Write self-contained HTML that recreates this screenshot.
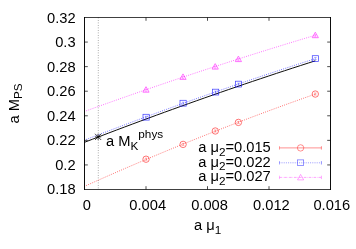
<!DOCTYPE html>
<html>
<head>
<meta charset="utf-8">
<title>plot</title>
<style>
html,body{margin:0;padding:0;background:#fff;}
body{width:356px;height:249px;overflow:hidden;font-family:"Liberation Sans",sans-serif;}
svg{display:block;will-change:transform;}
text{font-family:"Liberation Sans",sans-serif;fill:#000;}
.txt{filter:grayscale(1);}
</style>
</head>
<body>
<svg width="356" height="249" viewBox="0 0 356 249">
<rect x="0" y="0" width="356" height="249" fill="#ffffff"/>
<line x1="98.3" y1="17.5" x2="98.3" y2="189.5" stroke="#000" stroke-width="0.8" stroke-dasharray="0.8 1.7" opacity="0.5"/>
<polyline fill="none" stroke="#ff0000" stroke-width="0.85" stroke-linecap="round" stroke-dasharray="0.1 2.15" opacity="0.72" points="84.50,186.33 88.50,184.53 92.50,182.75 96.50,180.96 100.50,179.19 104.50,177.42 108.50,175.66 112.50,173.91 116.50,172.16 120.50,170.42 124.50,168.69 128.50,166.96 132.50,165.24 136.50,163.53 140.50,161.83 144.50,160.13 148.50,158.44 152.50,156.75 156.50,155.08 160.50,153.40 164.50,151.74 168.50,150.08 172.50,148.44 176.50,146.79 180.50,145.16 184.50,143.53 188.50,141.91 192.50,140.29 196.50,138.68 200.50,137.08 204.50,135.49 208.50,133.90 212.50,132.32 216.50,130.75 220.50,129.18 224.50,127.62 228.50,126.07 232.50,124.52 236.50,122.98 240.50,121.45 244.50,119.93 248.50,118.41 252.50,116.90 256.50,115.39 260.50,113.90 264.50,112.40 268.50,110.92 272.50,109.45 276.50,107.98 280.50,106.51 284.50,105.06 288.50,103.61 292.50,102.17 296.50,100.73 300.50,99.30 304.50,97.88 308.50,96.47 312.50,95.06 315.30,94.08"/>
<polyline fill="none" stroke="#0000ff" stroke-width="0.85" stroke-linecap="round" stroke-dasharray="0.1 2.15" opacity="0.72" points="84.50,140.15 88.50,138.60 92.50,137.05 96.50,135.51 100.50,133.98 104.50,132.45 108.50,130.92 112.50,129.40 116.50,127.88 120.50,126.37 124.50,124.87 128.50,123.36 132.50,121.87 136.50,120.37 140.50,118.89 144.50,117.41 148.50,115.93 152.50,114.46 156.50,112.99 160.50,111.52 164.50,110.07 168.50,108.61 172.50,107.17 176.50,105.72 180.50,104.28 184.50,102.85 188.50,101.42 192.50,100.00 196.50,98.58 200.50,97.16 204.50,95.75 208.50,94.35 212.50,92.95 216.50,91.56 220.50,90.17 224.50,88.78 228.50,87.40 232.50,86.03 236.50,84.65 240.50,83.29 244.50,81.93 248.50,80.57 252.50,79.22 256.50,77.88 260.50,76.53 264.50,75.20 268.50,73.87 272.50,72.54 276.50,71.22 280.50,69.90 284.50,68.59 288.50,67.28 292.50,65.98 296.50,64.68 300.50,63.39 304.50,62.10 308.50,60.82 312.50,59.54 315.40,58.62"/>
<polyline fill="none" stroke="#ff00ff" stroke-width="0.85" stroke-linecap="round" stroke-dasharray="0.1 2.15" opacity="0.72" points="84.50,111.46 88.50,110.01 92.50,108.57 96.50,107.13 100.50,105.70 104.50,104.27 108.50,102.84 112.50,101.42 116.50,100.01 120.50,98.60 124.50,97.19 128.50,95.79 132.50,94.39 136.50,92.99 140.50,91.61 144.50,90.22 148.50,88.84 152.50,87.46 156.50,86.09 160.50,84.73 164.50,83.36 168.50,82.00 172.50,80.65 176.50,79.30 180.50,77.96 184.50,76.62 188.50,75.28 192.50,73.95 196.50,72.62 200.50,71.30 204.50,69.98 208.50,68.67 212.50,67.36 216.50,66.06 220.50,64.75 224.50,63.46 228.50,62.17 232.50,60.88 236.50,59.60 240.50,58.32 244.50,57.05 248.50,55.78 252.50,54.51 256.50,53.25 260.50,52.00 264.50,50.75 268.50,49.50 272.50,48.26 276.50,47.02 280.50,45.79 284.50,44.56 288.50,43.34 292.50,42.12 296.50,40.90 300.50,39.69 304.50,38.48 308.50,37.28 312.50,36.08 315.30,35.25"/>
<polyline fill="none" stroke="#000" stroke-width="0.95" points="84.50,142.30 92.50,139.21 100.50,136.14 108.50,133.09 116.50,130.06 124.50,127.04 132.50,124.05 140.50,121.07 148.50,118.11 156.50,115.18 164.50,112.26 172.50,109.36 180.50,106.48 188.50,103.62 196.50,100.77 204.50,97.95 212.50,95.15 220.50,92.36 228.50,89.59 236.50,86.85 244.50,84.12 252.50,81.41 260.50,78.72 268.50,76.05 276.50,73.39 284.50,70.76 292.50,68.15 300.50,65.55 308.50,62.97 315.30,60.80"/>
<g fill="none" stroke="#ff0000" stroke-width="0.75" opacity="0.72">
<circle cx="146.05" cy="159.2" r="3.2"/>
<circle cx="183.1" cy="144.4" r="3.2"/>
<circle cx="215.3" cy="131.0" r="3.2"/>
<circle cx="238.4" cy="122.4" r="3.2"/>
<circle cx="315.3" cy="94.05" r="3.2"/>
</g>
<path d="M144.75,158.20 h2.6 M144.75,160.20 h2.6 M146.05,158.20 v2.0" stroke="#ff0000" stroke-width="0.6" fill="none" opacity="0.5"/>
<path d="M181.80,143.40 h2.6 M181.80,145.40 h2.6 M183.10,143.40 v2.0" stroke="#ff0000" stroke-width="0.6" fill="none" opacity="0.5"/>
<path d="M214.00,130.00 h2.6 M214.00,132.00 h2.6 M215.30,130.00 v2.0" stroke="#ff0000" stroke-width="0.6" fill="none" opacity="0.5"/>
<path d="M237.10,121.40 h2.6 M237.10,123.40 h2.6 M238.40,121.40 v2.0" stroke="#ff0000" stroke-width="0.6" fill="none" opacity="0.5"/>
<path d="M314.00,93.05 h2.6 M314.00,95.05 h2.6 M315.30,93.05 v2.0" stroke="#ff0000" stroke-width="0.6" fill="none" opacity="0.5"/>
<g fill="none" stroke="#0000ff" stroke-width="0.75" opacity="0.72">
<rect x="143.00" y="114.30" width="6.2" height="5.8"/>
<rect x="180.00" y="100.30" width="6.2" height="5.8"/>
<rect x="212.50" y="89.20" width="6.2" height="5.8"/>
<rect x="235.40" y="81.20" width="6.2" height="5.8"/>
<rect x="312.30" y="55.70" width="6.2" height="5.8"/>
</g>
<path d="M144.80,116.20 h2.6 M144.80,118.20 h2.6 M146.10,116.20 v2.0" stroke="#0000ff" stroke-width="0.6" fill="none" opacity="0.5"/>
<path d="M181.80,102.20 h2.6 M181.80,104.20 h2.6 M183.10,102.20 v2.0" stroke="#0000ff" stroke-width="0.6" fill="none" opacity="0.5"/>
<path d="M214.30,91.10 h2.6 M214.30,93.10 h2.6 M215.60,91.10 v2.0" stroke="#0000ff" stroke-width="0.6" fill="none" opacity="0.5"/>
<path d="M237.20,83.10 h2.6 M237.20,85.10 h2.6 M238.50,83.10 v2.0" stroke="#0000ff" stroke-width="0.6" fill="none" opacity="0.5"/>
<path d="M314.10,57.60 h2.6 M314.10,59.60 h2.6 M315.40,57.60 v2.0" stroke="#0000ff" stroke-width="0.6" fill="none" opacity="0.5"/>
<g fill="none" stroke="#ff00ff" stroke-width="0.75" opacity="0.72">
<path d="M146.00,86.70 l3.1,5.5 h-6.2 z"/>
<path d="M183.00,73.90 l3.1,5.5 h-6.2 z"/>
<path d="M215.20,63.60 l3.1,5.5 h-6.2 z"/>
<path d="M238.40,56.10 l3.1,5.5 h-6.2 z"/>
<path d="M315.30,32.20 l3.1,5.5 h-6.2 z"/>
</g>
<path d="M144.70,89.30 h2.6 M144.70,91.30 h2.6 M146.00,89.30 v2.0" stroke="#ff00ff" stroke-width="0.6" fill="none" opacity="0.5"/>
<path d="M181.70,76.50 h2.6 M181.70,78.50 h2.6 M183.00,76.50 v2.0" stroke="#ff00ff" stroke-width="0.6" fill="none" opacity="0.5"/>
<path d="M213.90,66.20 h2.6 M213.90,68.20 h2.6 M215.20,66.20 v2.0" stroke="#ff00ff" stroke-width="0.6" fill="none" opacity="0.5"/>
<path d="M237.10,58.70 h2.6 M237.10,60.70 h2.6 M238.40,58.70 v2.0" stroke="#ff00ff" stroke-width="0.6" fill="none" opacity="0.5"/>
<path d="M314.00,34.80 h2.6 M314.00,36.80 h2.6 M315.30,34.80 v2.0" stroke="#ff00ff" stroke-width="0.6" fill="none" opacity="0.5"/>
<g stroke="#000" stroke-width="0.7">
<line x1="95.0" y1="136.9" x2="101.19999999999999" y2="136.9"/><line x1="98.1" y1="133.8" x2="98.1" y2="140.0"/>
<line x1="95.0" y1="133.8" x2="101.19999999999999" y2="140.0"/><line x1="95.0" y1="140.0" x2="101.19999999999999" y2="133.8"/>
</g>
<g stroke="#ff0000" stroke-width="0.55" fill="none" opacity="0.8">
<line x1="279.3" y1="147.9" x2="321.4" y2="147.9"/><line x1="279.3" y1="146.20000000000002" x2="279.3" y2="149.6"/><line x1="321.4" y1="146.20000000000002" x2="321.4" y2="149.6"/>
<circle cx="300.6" cy="147.9" r="3.2"/></g>
<g stroke="#0000ff" stroke-width="0.6" fill="none" opacity="0.68">
<line x1="279.3" y1="162.8" x2="321.4" y2="162.8" stroke-dasharray="1 1.2"/><line x1="279.3" y1="161.10000000000002" x2="279.3" y2="164.5"/><line x1="321.4" y1="161.10000000000002" x2="321.4" y2="164.5"/>
<rect x="297.5" y="159.9" width="6.2" height="5.8"/></g>
<g stroke="#ff00ff" stroke-width="0.55" fill="none" opacity="0.65">
<line x1="279.3" y1="177.4" x2="321.4" y2="177.4" stroke-dasharray="2.6 0.9 0.5 0.9"/><line x1="279.3" y1="175.70000000000002" x2="279.3" y2="179.1"/><line x1="321.4" y1="175.70000000000002" x2="321.4" y2="179.1"/>
<path d="M300.6,174.40 l3.1,5.5 h-6.2 z"/></g>
<g stroke="#000" stroke-linecap="square"><line x1="84.5" y1="17.5" x2="330.5" y2="17.5" stroke-width="0.75"/><line x1="84.5" y1="189.5" x2="330.5" y2="189.5" stroke-width="0.75"/><line x1="84.5" y1="17.5" x2="84.5" y2="189.5" stroke-width="0.95"/><line x1="330.5" y1="17.5" x2="330.5" y2="189.5" stroke-width="0.95"/></g>
<g stroke="#000" stroke-width="0.7">
<line x1="84.5" y1="42.07" x2="87.8" y2="42.07"/><line x1="330.5" y1="42.07" x2="327.2" y2="42.07"/>
<line x1="84.5" y1="66.64" x2="87.8" y2="66.64"/><line x1="330.5" y1="66.64" x2="327.2" y2="66.64"/>
<line x1="84.5" y1="91.21" x2="87.8" y2="91.21"/><line x1="330.5" y1="91.21" x2="327.2" y2="91.21"/>
<line x1="84.5" y1="115.79" x2="87.8" y2="115.79"/><line x1="330.5" y1="115.79" x2="327.2" y2="115.79"/>
<line x1="84.5" y1="140.36" x2="87.8" y2="140.36"/><line x1="330.5" y1="140.36" x2="327.2" y2="140.36"/>
<line x1="84.5" y1="164.93" x2="87.8" y2="164.93"/><line x1="330.5" y1="164.93" x2="327.2" y2="164.93"/>
<line x1="146.00" y1="189.5" x2="146.00" y2="186.2"/><line x1="146.00" y1="17.5" x2="146.00" y2="20.8"/>
<line x1="207.50" y1="189.5" x2="207.50" y2="186.2"/><line x1="207.50" y1="17.5" x2="207.50" y2="20.8"/>
<line x1="269.00" y1="189.5" x2="269.00" y2="186.2"/><line x1="269.00" y1="17.5" x2="269.00" y2="20.8"/>
</g>
<g class="txt">
<g font-size="14.7" text-anchor="end">
<text x="75.6" y="22.90">0.32</text>
<text x="75.6" y="47.36">0.3</text>
<text x="75.6" y="71.82">0.28</text>
<text x="75.6" y="96.28">0.26</text>
<text x="75.6" y="120.74">0.24</text>
<text x="75.6" y="145.20">0.22</text>
<text x="75.6" y="169.66">0.2</text>
<text x="75.6" y="194.12">0.18</text>
</g>
<g font-size="14.7" text-anchor="middle">
<text x="86.9" y="209.8">0</text>
<text x="147.7" y="209.8">0.004</text>
<text x="209.6" y="209.8">0.008</text>
<text x="271.4" y="209.8">0.012</text>
<text x="331.8" y="209.8">0.016</text>
</g>
<text x="194" y="230.2" font-size="14.7">a μ<tspan font-size="11.76" dy="3.5">1</tspan></text>
<text transform="translate(18.75,123.5) rotate(-90)" font-size="14.7">a M<tspan font-size="11.76" dy="3.5">PS</tspan></text>
<text x="106" y="145.6" font-size="14.7">a M<tspan font-size="11.76" dy="3.9">K</tspan><tspan font-size="11.76" dy="-11.3">phys</tspan></text>
<g font-size="14.7" text-anchor="end">
<text x="270.8" y="152.0">a μ<tspan font-size="11.76" dy="3.5">2</tspan><tspan dy="-3.5">=0.015</tspan></text>
<text x="270.8" y="166.7">a μ<tspan font-size="11.76" dy="3.5">2</tspan><tspan dy="-3.5">=0.022</tspan></text>
<text x="270.8" y="181.3">a μ<tspan font-size="11.76" dy="3.5">2</tspan><tspan dy="-3.5">=0.027</tspan></text>
</g>
</g>
</svg>
</body>
</html>
